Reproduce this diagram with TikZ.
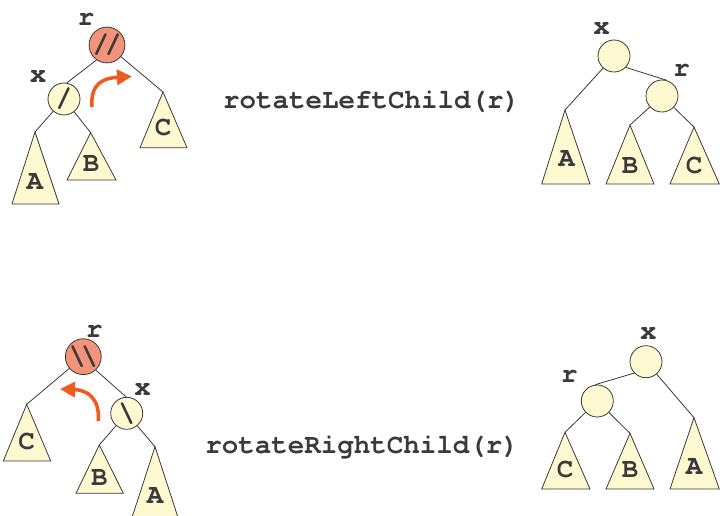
\documentclass[tikz,border=0pt]{standalone}
\usepackage{fontspec}
\newfontfamily\cour{TeX Gyre Cursor}
\usetikzlibrary{arrows.meta}
\definecolor{cream}{HTML}{FFF9D2}
\definecolor{salmon}{HTML}{F4937B}
\definecolor{orng}{HTML}{F05A1E}
\definecolor{edgec}{HTML}{3A3A3A}
\begin{document}
\begin{tikzpicture}[x=1pt,y=-1pt,
  nd/.style={circle,draw=edgec,line width=0.8pt,fill=cream,minimum size=32pt,inner sep=0pt,font=\cour\bfseries\fontsize{27}{27}\selectfont,text=edgec},
  hot/.style={nd,fill=salmon},
  tri/.style={draw=edgec,line width=0.8pt,fill=cream,line join=miter},
  lbl/.style={inner sep=0pt,font=\cour\bfseries\fontsize{27.5}{27.5}\selectfont,text=edgec},
  ln/.style={draw=edgec,line width=0.8pt},
  rot/.style={line width=3.5pt,draw=orng,-{Triangle[length=15pt,width=15pt]}},
  code/.style={inner sep=0pt,anchor=base,font=\cour\bfseries\fontsize{27.5}{27.5}\selectfont,text=edgec}]
\clip (0,0) rectangle (720,516);
\fill[white] (0,0) rectangle (720,516);

% ===== top-left tree =====
\node[hot] (r1) at (107,45) {/\kern-4pt/};
\node[nd]  (x1) at (64,99) {/};
\node[lbl] (r1l) at (86,19) {r};
\node[lbl] (x1l) at (38,76) {x};
\coordinate (a1) at (35,132);
\coordinate (b1) at (90.7,132.7);
\coordinate (c1) at (163,92);
\draw[tri] (a1) -- (59,204) -- (12,204) -- cycle;
\draw[tri] (b1) -- (116,180) -- (67,180) -- cycle;
\draw[tri] (c1) -- (187,147.7) -- (140,147.7) -- cycle;
\node[lbl] (a1l) at (35,181.7) {A};
\node[lbl] (b1l) at (91,163) {B};
\node[lbl] (c1l) at (163,127) {C};
\draw[ln] (r1.-125) -- (x1.80);
\draw[ln] (r1) -- (c1);
\draw[ln] (x1) -- (a1);
\draw[ln] (x1) -- (b1);
\coordinate (s1) at (92,107);
\coordinate (e1) at (132,76.5);
\draw[rot] (s1) .. controls (90,83) and (104,78) .. (e1);

% ===== top-right tree =====
\node[nd] (x2) at (614,56) {};
\node[nd] (r2) at (662,96) {};
\node[lbl] (x2l) at (601.7,28.3) {x};
\node[lbl] (r2l) at (681.7,70) {r};
\coordinate (a2) at (565,110);
\coordinate (b2) at (630,125);
\coordinate (c2) at (694,127);
\draw[tri] (a2) -- (590,184) -- (541.7,184) -- cycle;
\draw[tri] (b2) -- (654,184) -- (606,184) -- cycle;
\draw[tri] (c2) -- (719.3,184) -- (670,184) -- cycle;
\node[lbl] (a2l) at (566.7,158.3) {A};
\node[lbl] (b2l) at (630,165) {B};
\node[lbl] (c2l) at (694,165) {C};
\draw[ln] (x2.-44) -- (r2.73);
\draw[ln] (x2) -- (a2);
\draw[ln] (r2) -- (b2);
\draw[ln] (r2) -- (c2);

% ===== bottom-left tree =====
\node[hot] (r3) at (83.3,356.7) {\textbackslash\kern-4pt\textbackslash};
\node[nd]  (x3) at (126.7,413.3) {\textbackslash};
\node[lbl] (r3l) at (94.3,331.7) {r};
\node[lbl] (x3l) at (142.7,389) {x};
\coordinate (c3) at (26.7,404.3);
\coordinate (b3) at (99.3,445);
\coordinate (a3) at (155,446.7);
\draw[tri] (c3) -- (50.7,461) -- (3.3,461) -- cycle;
\draw[tri] (b3) -- (123.3,493.3) -- (76,493.3) -- cycle;
\draw[tri] (a3) -- (178.5,519) -- (131.5,519) -- cycle;
\node[lbl] (c3l) at (26.7,441.7) {C};
\node[lbl] (b3l) at (99.3,477.7) {B};
\node[lbl] (a3l) at (155,495) {A};
\draw[ln] (r3.-47) -- (x3.92);
\draw[ln] (r3) -- (c3);
\draw[ln] (x3) -- (b3);
\draw[ln] (x3) -- (a3);
\coordinate (s3) at (98.3,421);
\coordinate (e3) at (60,389);
\draw[rot] (s3) .. controls (100,398) and (87,390) .. (e3);

% ===== bottom-right tree =====
\node[nd] (x4) at (646,361.7) {};
\node[nd] (r4) at (597.3,401) {};
\node[lbl] (x4l) at (648.3,333.3) {x};
\node[lbl] (r4l) at (569.3,376.7) {r};
\coordinate (c4) at (565,432.3);
\coordinate (b4) at (630,433.3);
\coordinate (a4) at (694,417.7);
\draw[tri] (c4) -- (590,489) -- (541.7,489) -- cycle;
\draw[tri] (b4) -- (654,489) -- (606,489) -- cycle;
\draw[tri] (a4) -- (719.3,489) -- (670,489) -- cycle;
\node[lbl] (c4l) at (565,469) {C};
\node[lbl] (b4l) at (630,469) {B};
\node[lbl] (a4l) at (694,466.7) {A};
\draw[ln] (x4.-136) -- (r4.98);
\draw[ln] (x4) -- (a4);
\draw[ln] (r4) -- (c4);
\draw[ln] (r4) -- (b4);

% ===== operation names =====
\node[code] (op1) at (371.5,108.3) {rotateLeftChild(r)};
\node[code] (op2) at (362,453.3) {rotateRightChild(r)};
\end{tikzpicture}
\end{document}
